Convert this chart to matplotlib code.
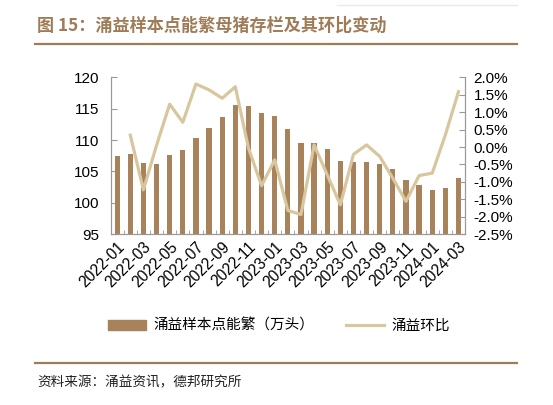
import numpy as np
import matplotlib
matplotlib.use("Agg")
import matplotlib.pyplot as plt
from matplotlib.ticker import FuncFormatter, FixedLocator
from matplotlib.lines import Line2D
from matplotlib.patches import Patch

plt.rcParams['font.family'] = ['Liberation Sans', 'Noto Sans CJK SC', 'DejaVu Sans']

# data
months = ["2022-01", "2022-02", "2022-03", "2022-04", "2022-05", "2022-06",
          "2022-07", "2022-08", "2022-09", "2022-10", "2022-11", "2022-12",
          "2023-01", "2023-02", "2023-03", "2023-04", "2023-05", "2023-06",
          "2023-07", "2023-08", "2023-09", "2023-10", "2023-11", "2023-12",
          "2024-01", "2024-02", "2024-03"]
sows = [107.4, 107.7, 106.35, 106.25, 107.6, 108.4, 110.3, 112.0, 113.6,
        115.6, 115.5, 114.25, 113.8, 111.7, 109.5, 109.6, 108.5, 106.7,
        106.45, 106.5, 106.2, 105.35, 103.7, 102.8, 102.0, 102.3, 103.9]
mom = [np.nan, 0.34, -1.23, 0.05, 1.23, 0.71, 1.81, 1.64, 1.40, 1.73,
       -0.03, -1.11, -0.37, -1.82, -1.94, 0.06, -0.80, -1.66, -0.21, 0.06,
       -0.27, -0.90, -1.56, -0.82, -0.75, 0.35, 1.59]

bar_color = "#A8825A"
line_color = "#D8C69E"
brown = "#9E7C58"

fig = plt.figure(figsize=(5.53, 4.05), dpi=100)
ax = fig.add_axes([0.2, 0.422, 0.641, 0.387])
ax2 = ax.twinx()

x = np.arange(len(months))
ax.bar(x, sows, width=0.4, color=bar_color, zorder=2)
ax2.plot(x, mom, color=line_color, lw=2.3, zorder=3)

ax.set_xlim(-0.5, len(months) - 0.5)
ax.set_ylim(95, 120)
ax.set_yticks(np.arange(95, 121, 5))
ax2.set_ylim(-2.5, 2.0)
ax2.set_yticks(np.arange(-2.5, 2.01, 0.5))
ax2.yaxis.set_major_formatter(FuncFormatter(lambda v, p: f"{v:.1f}%"))

ax.set_xticks(x[::2])
ax.set_xticklabels(months[::2], rotation=45, ha="right", rotation_mode="anchor")
ax.xaxis.set_minor_locator(FixedLocator(np.arange(-0.5, len(months), 1)))
ax.tick_params(axis="x", which="major", length=0, labelsize=11.2, pad=4)
ax.tick_params(axis="x", which="minor", direction="in", length=3, color="#999999")
ax.tick_params(axis="y", direction="in", length=4, color="#999999", labelsize=11, pad=8)
ax2.tick_params(axis="y", direction="in", length=4, color="#999999", labelsize=11, pad=6)

for a in (ax, ax2):
    a.spines["top"].set_visible(False)
    for s in ("left", "right", "bottom"):
        a.spines[s].set_color("#999999")
        a.spines[s].set_linewidth(0.8)

handles = [Patch(color=bar_color), Line2D([0], [0], color=line_color, lw=2.3)]
fig.legend(handles, ["涌益样本点能繁（万头）", "涌益环比"],
           loc="center", bbox_to_anchor=(0.505, 0.195), ncol=2, frameon=False,
           prop={"family": ["Noto Sans CJK SC"], "size": 10.5},
           handlelength=2.6, handleheight=0.6, columnspacing=2.2, handletextpad=0.5)

# title, rules, source
fig.text(0.067, 0.937, "图 15：涌益样本点能繁母猪存栏及其环比变动", color=brown,
         fontsize=12.3, fontweight="bold", va="center",
         family=["Noto Sans CJK SC", "DejaVu Sans"])
fig.add_artist(Line2D([0.064, 0.935], [0.891, 0.891], color=brown, lw=1.6))
fig.add_artist(Line2D([0.61, 0.935], [0.988, 0.988], color="#EEEAE5", lw=1.0))
fig.add_artist(Line2D([0.064, 0.935], [0.104, 0.104], color=brown, lw=1.6))
fig.text(0.067, 0.057, "资料来源：涌益资讯，德邦研究所", fontsize=9.8, va="center",
         family=["Noto Sans CJK SC", "DejaVu Sans"], color="#222222")

fig.savefig("out.png", dpi=100)
